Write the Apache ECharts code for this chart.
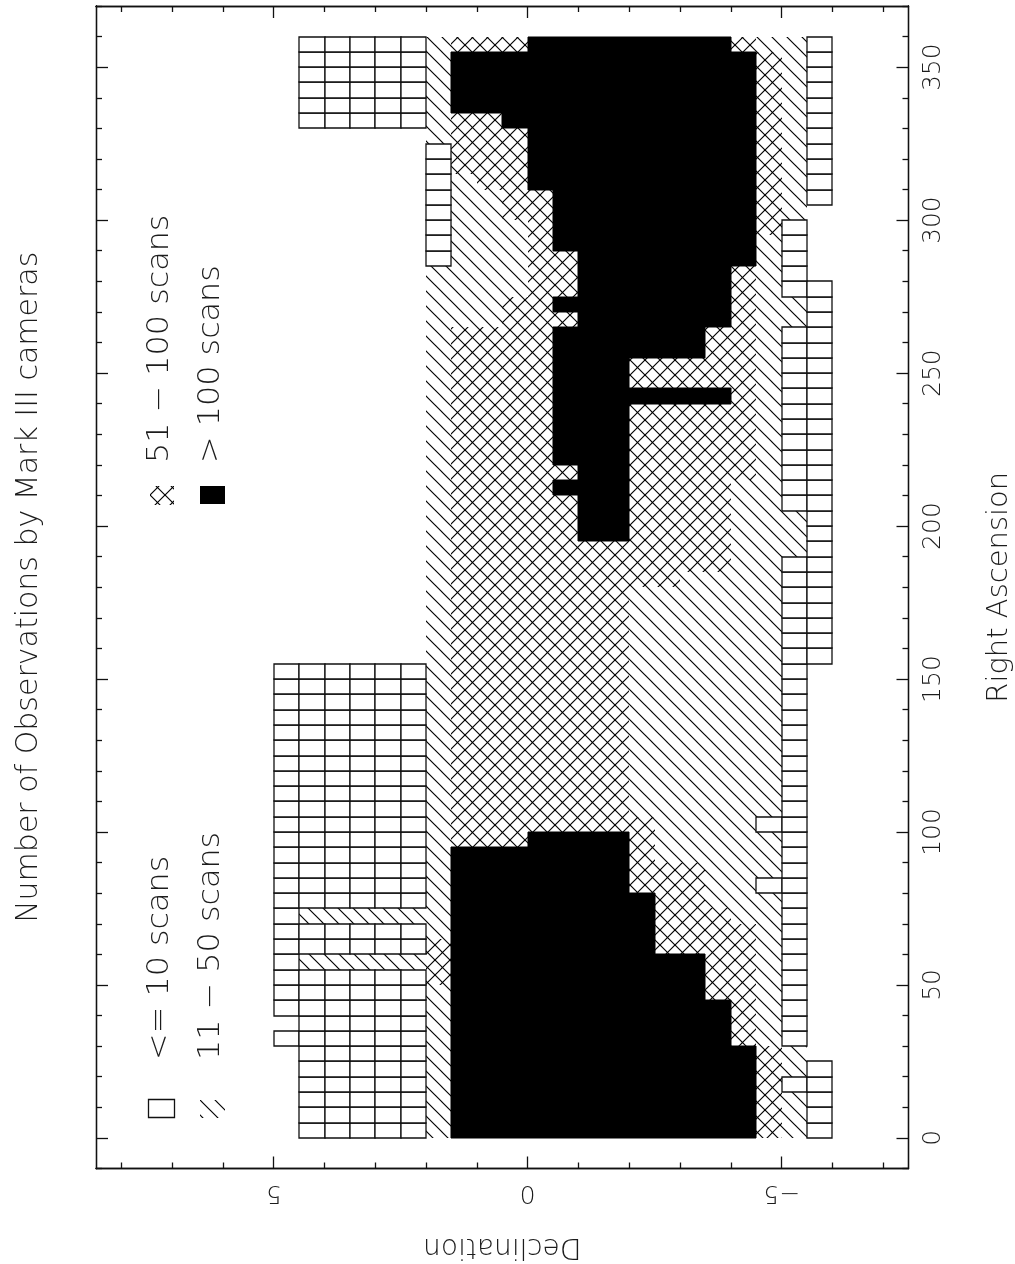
<!DOCTYPE html>
<html>
<head>
<meta charset="utf-8">
<style>html,body{margin:0;padding:0;background:#fff}#c{width:1015px;height:1264px}</style>
<script src="https://cdn.jsdelivr.net/npm/echarts@6/dist/echarts.min.js"></script>
</head>
<body>
<div id="c"></div>
<script>
// Right ascension of the start of each 5-degree band (index in scanLevels)
const raBandWidth = 5;
// Declination of the northern edge of each half-degree cell (character index in a band)
const decCellNorth = [5,4.5,4,3.5,3,2.5,2,1.5,1,0.5,0,-0.5,-1,-1.5,-2,-2.5,-3,-3.5,-4,-4.5,-5,-5.5];
const decCellHeight = 0.5;
// . = none, 1 = <=10, 2 = 11-50, 3 = 51-100, 4 = >100; spaces only group the text
const scanLevels = [
 ". 11111 2 444 4444 44444 3 2 1", // 0
 ". 11111 2 444 4444 44444 3 2 1", // 5
 ". 11111 2 444 4444 44444 3 2 1", // 10
 ". 11111 2 444 4444 44444 3 1 1", // 15
 ". 11111 2 444 4444 44444 3 2 1", // 20
 ". 11111 2 444 4444 44444 3 2 .", // 25
 "1 11111 2 444 4444 44443 2 1 .", // 30
 ". 11111 2 444 4444 44443 2 1 .", // 35
 "1 11111 2 444 4444 44443 2 1 .", // 40
 "1 11111 2 444 4444 44433 2 1 .", // 45
 "1 11111 3 444 4444 44433 2 1 .", // 50
 "1 22222 3 444 4444 44433 2 1 .", // 55
 "1 11111 3 444 4444 43333 2 1 .", // 60
 "1 11111 2 444 4444 43333 2 1 .", // 65
 "1 22222 2 444 4444 43332 2 1 .", // 70
 "1 11111 2 444 4444 43322 2 1 .", // 75
 "1 11111 2 444 4444 33322 1 1 .", // 80
 "1 11111 2 444 4444 33322 2 1 .", // 85
 "1 11111 2 444 4444 32222 2 1 .", // 90
 "1 11111 2 333 4444 32222 2 1 .", // 95
 "1 11111 2 333 3333 32222 1 1 .", // 100
 "1 11111 2 333 3333 22222 2 1 .", // 105
 "1 11111 2 333 3333 22222 2 1 .", // 110
 "1 11111 2 333 3333 22222 2 1 .", // 115
 "1 11111 2 333 3333 22222 2 1 .", // 120
 "1 11111 2 333 3333 22222 2 1 .", // 125
 "1 11111 2 333 3333 22222 2 1 .", // 130
 "1 11111 2 333 3333 22222 2 1 .", // 135
 "1 11111 2 333 3333 22222 2 1 .", // 140
 "1 11111 2 333 3333 22222 2 1 .", // 145
 "1 11111 2 333 3333 22222 2 1 .", // 150
 ". ..... 2 333 3333 22222 2 1 1", // 155
 ". ..... 2 333 3333 22222 2 1 1", // 160
 ". ..... 2 333 3333 22222 2 1 1", // 165
 ". ..... 2 333 3333 22222 2 1 1", // 170
 ". ..... 2 333 3333 22222 2 1 1", // 175
 ". ..... 2 333 3333 33222 2 1 1", // 180
 ". ..... 2 333 3333 33332 2 1 1", // 185
 ". ..... 2 333 3333 33332 2 2 1", // 190
 ". ..... 2 333 3344 33332 2 2 1", // 195
 ". ..... 2 333 3344 33332 2 2 1", // 200
 ". ..... 2 333 3344 33332 2 1 1", // 205
 ". ..... 2 333 3444 33332 2 1 1", // 210
 ". ..... 2 333 3344 33333 2 1 1", // 215
 ". ..... 2 333 3444 33333 2 1 1", // 220
 ". ..... 2 333 3444 33333 2 1 1", // 225
 ". ..... 2 333 3444 33333 2 1 1", // 230
 ". ..... 2 333 3444 33333 2 1 1", // 235
 ". ..... 2 333 3444 44443 2 1 1", // 240
 ". ..... 2 333 3444 33333 2 1 1", // 245
 ". ..... 2 333 3444 33333 2 1 1", // 250
 ". ..... 2 333 3444 44433 2 1 1", // 255
 ". ..... 2 333 3444 44433 2 1 1", // 260
 ". ..... 2 223 3344 44443 2 2 1", // 265
 ". ..... 2 223 3444 44443 2 2 1", // 270
 ". ..... 2 222 3344 44443 2 1 1", // 275
 ". ..... 2 222 3344 44443 2 1 .", // 280
 ". ..... 1 222 3344 44444 2 1 .", // 285
 ". ..... 1 222 3444 44444 2 1 .", // 290
 ". ..... 1 222 3444 44444 3 1 .", // 295
 ". ..... 1 223 3444 44444 3 2 .", // 300
 ". ..... 1 223 3444 44444 3 2 1", // 305
 ". ..... 1 233 4444 44444 3 2 1", // 310
 ". ..... 1 333 4444 44444 3 2 1", // 315
 ". ..... 1 333 4444 44444 3 2 1", // 320
 ". ..... 2 333 4444 44444 3 2 1", // 325
 ". 11111 2 334 4444 44444 3 2 1", // 330
 ". 11111 2 444 4444 44444 3 2 1", // 335
 ". 11111 2 444 4444 44444 3 2 1", // 340
 ". 11111 2 444 4444 44444 3 2 1", // 345
 ". 11111 2 444 4444 44444 3 2 1", // 350
 ". 11111 2 333 4444 44443 2 2 1"  // 355
];
const decMajorTicks = [-5,0,5];
const decMinorTicks = [-7,-6,-4,-3,-2,-1,1,2,3,4,6,7,8];
const raMajorTicks = [0,50,100,150,200,250,300,350];
const raMinorTicks = [-10,10,20,30,40,60,70,80,90,110,120,130,140,160,170,180,190,210,220,230,240,260,270,280,290,310,320,330,340,360,370];
const legendLabels = ["<= 10 scans","11 \u2212 50 scans","51 \u2212 100 scans","> 100 scans"];
const titleText = "Number of Observations by Mark III cameras";

function hatch(cross){
  const p = 15, c = document.createElement('canvas');
  c.width = p; c.height = p;
  const g = c.getContext('2d');
  g.fillStyle = '#fff'; g.fillRect(0,0,p,p);
  g.strokeStyle = '#000'; g.lineWidth = 1.15;
  const seg = (x1,y1,x2,y2)=>{g.beginPath();g.moveTo(x1,y1);g.lineTo(x2,y2);g.stroke();};
  seg(-2,-2,p+2,p+2); 
  seg(-2-p,-2,2,p+2); seg(p-2,-2,2*p+2,p+2);
  if(cross){ seg(-2,p+2,p+2,-2); seg(-2-p,p+2,2,-2); seg(p-2,p+2,2*p+2,-2); }
  return {image:c, repeat:'repeat'};
}
const fillHatch = hatch(false), fillCross = hatch(true);

const cells = [];
scanLevels.forEach((row,b)=>{
  const s = row.replace(/ /g,'');
  for(let i=0;i<s.length;i++){
    if(s[i] !== '.') cells.push([b*raBandWidth, decCellNorth[i], +s[i]]);
  }
});

function renderCell(params, api){
  const ra = api.value(0), dec = api.value(1), lv = api.value(2);
  const a = api.coord([dec, ra]);
  const b = api.coord([dec-decCellHeight, ra+raBandWidth]);
  const x = Math.round(a[0]), x2 = Math.round(b[0]), y2 = Math.round(a[1]), y = Math.round(b[1]);
  const style = lv===1 ? {fill:'#fff',stroke:'#111',lineWidth:1.3}
    : lv===2 ? {fill:fillHatch}
    : lv===3 ? {fill:fillCross}
    : {fill:'#000',stroke:'#000',lineWidth:1};
  return {type:'rect', z2: lv===1?5:(lv===4?3:1), shape:{x:x,y:y,width:x2-x,height:y2-y}, style:style};
}

const FONT = '"DejaVu Sans ExtraLight","DejaVu Sans Light","DejaVu Sans"';
const INK = '#1c1c1c';
const line = {show:true,onZero:false,lineStyle:{color:'#111',width:1.3}};
function xAx(pos,vals,len,labels,name){
  return {type:'value',position:pos,inverse:true,min:-7.5,max:8.5,splitLine:{show:false},
    axisLine:line,
    axisTick:{show:true,inside:true,length:len,customValues:vals,lineStyle:{color:'#111',width:1.3}},
    axisLabel:{show:labels,customValues:vals,rotate:180,margin:11,fontFamily:FONT,fontSize:25,color:INK,
      formatter:v=>v<0?'\u2212'+(-v):''+v},
    name:name||'',nameLocation:'middle',nameGap:64,nameRotate:180,
    nameTextStyle:{fontFamily:FONT,fontSize:28,color:INK}};
}
function yAx(pos,vals,len,labels,name,gap){
  return {type:'value',position:pos,min:-10,max:370,splitLine:{show:false},
    axisLine:line,
    axisTick:{show:true,inside:true,length:len,customValues:vals,lineStyle:{color:'#111',width:1.3}},
    axisLabel:{show:labels,customValues:vals,rotate:90,margin:12,fontFamily:FONT,fontSize:25,color:INK},
    name:name||'',nameLocation:'middle',nameGap:gap||0,nameRotate:90,
    nameTextStyle:{fontFamily:FONT,fontSize:name===titleText?30:29,color:INK}};
}
const legendText = (t,x,y)=>({type:'text',rotation:Math.PI/2,scaleX:1.06,x:x,y:y,
  style:{text:t,fontFamily:FONT,fontSize:30,fill:INK,textAlign:'left',textVerticalAlign:'middle'}});

const chart = echarts.init(document.getElementById('c'),null,{renderer:'canvas'});
chart.setOption({
  animation:false,
  backgroundColor:'#fff',
  grid:{left:96,right:106.5,top:6,bottom:95.5,outerBoundsMode:'none',containLabel:false},
  xAxis:[
    xAx('bottom',decMajorTicks,12,true,'Declination'),
    xAx('bottom',decMinorTicks,6,false),
    xAx('top',decMajorTicks,12,false),
    xAx('top',decMinorTicks,6,false)
  ],
  yAxis:[
    yAx('right',raMajorTicks,12,true,'Right Ascension',76),
    yAx('right',raMinorTicks,6,false),
    yAx('left',raMajorTicks,12,false,titleText,52),
    yAx('left',raMinorTicks,6,false)
  ],
  series:[{
    type:'custom',coordinateSystem:'cartesian2d',xAxisIndex:0,yAxisIndex:0,
    clip:false,silent:true,encode:{x:1,y:0},
    data:cells,renderItem:renderCell
  }],
  graphic:[
    {type:'rect',shape:{x:148.5,y:1099.5,width:26,height:18},style:{fill:'#fff',stroke:'#111',lineWidth:1.3}},
    legendText(legendLabels[0],160,1060),
    {type:'rect',shape:{x:200,y:1100,width:25,height:18},style:{fill:fillHatch}},
    legendText(legendLabels[1],211,1060),
    {type:'rect',shape:{x:150,y:486,width:24,height:19},style:{fill:fillCross}},
    legendText(legendLabels[2],160,463),
    {type:'rect',shape:{x:200,y:486,width:25,height:18},style:{fill:'#000'}},
    legendText(legendLabels[3],211,463)
  ]
});
</script>
</body>
</html>
